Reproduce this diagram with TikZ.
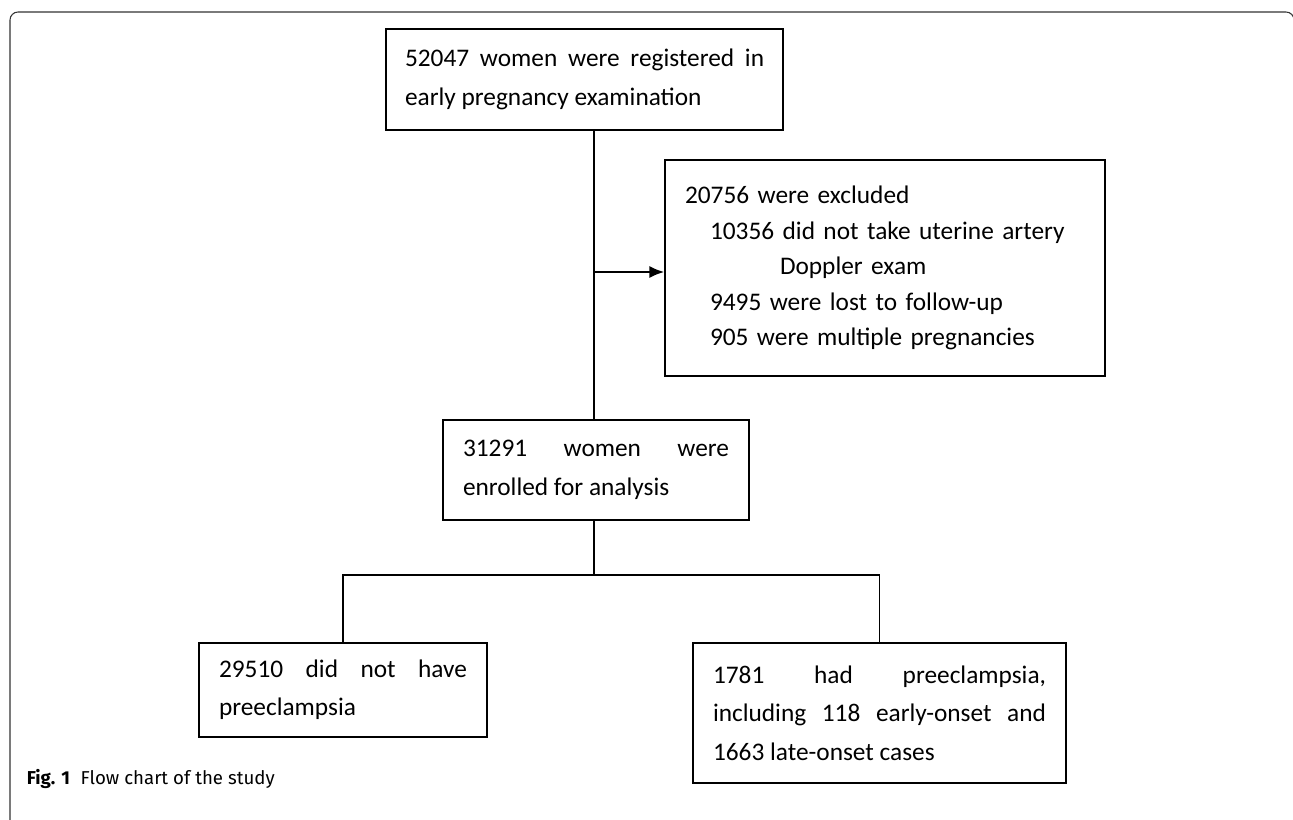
\documentclass[tikz,border=0pt]{standalone}
\usepackage{fontspec}
\setmainfont{Carlito}
\newfontfamily\capfont{Fira Sans}
\usepackage{tikz}
\usetikzlibrary{arrows.meta}
\hyphenpenalty=10000
\exhyphenpenalty=10000
\tolerance=10000

\begin{document}
\begin{tikzpicture}[x=0.75pt, y=-0.75pt, line width=1.3pt, >={Latex[length=11pt,width=9pt]},
  box/.style={draw, align=justify, inner ysep=0pt, inner xsep=15pt, font=\fontsize{19}{28.8}\selectfont}]
\useasboundingbox (0,0) rectangle (1293,820);
\draw[line width=0.8pt, black!80, rounded corners=6pt] (10,830) -- (10,12) -- (1294,12) -- (1294,60);

\node[box, text width=269.25pt, inner xsep=14.25pt, minimum height=75.75pt] (reg) at (584.5,79.5) {52047 women were registered in early pregnancy examination};
\node[box, text width=300pt, minimum height=162pt, align=left, font=\fontsize{19}{26.6}\selectfont] (excl) at (885,268) {20756 were excluded\\
  \hspace*{18.75pt}\makebox[281.25pt][s]{10356 did not take uterine artery}\\
  \hspace*{71.25pt}Doppler exam\\
  \hspace*{18.75pt}9495 were lost to follow-up\\
  \hspace*{18.75pt}905 were multiple pregnancies};
\node[box, text width=199.5pt, minimum height=75pt] (enr) at (596,470) {31291 women were enrolled for analysis};
\node[box, text width=186pt, minimum height=70.5pt] (nopre) at (343,690) {29510 did not have preeclampsia};
\node[box, text width=249.75pt, minimum height=105pt] (pre) at (879.5,713) {1781 had preeclampsia, including 118 early-onset and 1663 late-onset cases};

\coordinate (j) at (594,272);
\coordinate (split) at (594,575);

\draw (reg.south -| j) -- (enr.north -| j);
\draw[->] (j) -- (j -| excl.west);
\draw (enr.south -| j) -- (split);
\draw (nopre.north) |- (split) -| (pre.north);

\node[anchor=west, inner sep=0pt, font=\capfont\fontsize{14}{16}\selectfont] (cap) at (26,779) {\textbf{Fig. 1}\hspace{8pt}Flow chart of the study};
\end{tikzpicture}
\end{document}
